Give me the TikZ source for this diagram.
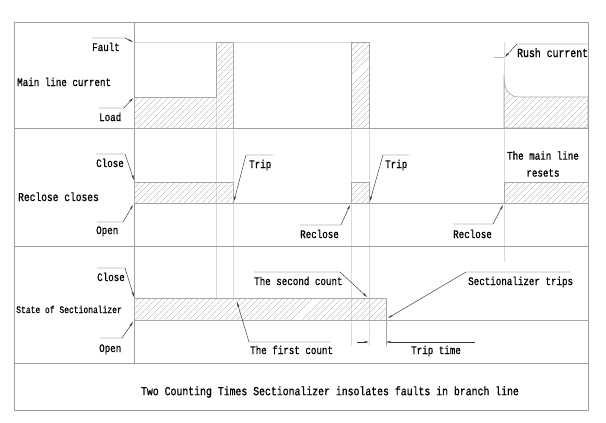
\documentclass[tikz,border=0pt]{standalone}
\usepackage{fontspec}
\setmainfont{Liberation Mono}[FakeStretch=0.8,FakeBold=0.8]
\usetikzlibrary{arrows.meta,patterns.meta}
\begin{document}
\begin{tikzpicture}[x=1pt,y=-1pt,
  frame/.style={draw=gray!75,line width=1pt},
  guide/.style={draw=gray!28,line width=0.5pt},
  wave/.style={draw=gray!70,line width=0.6pt},
  hatch/.style={wave,pattern={Lines[angle=45,distance=4pt,line width=0.35pt]},pattern color=gray!70},
  leader/.style={draw=black!80,line width=0.45pt},
  tip/.style={-{Stealth[length=5pt,width=2pt]}},
  lbl/.style={inner sep=0pt,anchor=base west,font=\fontsize{11.5}{13}\selectfont},
]
\useasboundingbox (0,0) rectangle (606,423);
% guide lines
\foreach \gx/\gy in {216/300,233/300,351/346,369/346,504/262}
  \path[guide] (\gx,42) -- (\gx,\gy);
\path[guide] (134,42) -- (369,42);
% frame
\path[frame] (14,22) rectangle (588,410);
\path[frame] (14,128) -- (588,128);
\path[frame] (14,246) -- (588,246);
\path[frame] (14,363) -- (588,363);
\path[frame] (134,22) -- (134,363);
% row 1 waveform
\path[hatch] (134,128) -- (134,97) -- (216,97) -- (216,42) -- (233,42) -- (233,128) -- cycle;
\path[hatch] (351,128) rectangle (369,42);
\path[hatch] (504,128) -- (504,75) .. controls (504,92) and (510,97) .. (520,97) -- (588,97) -- (588,128) -- cycle;
% row 2 waveform
\path[wave] (134,203) -- (588,203);
\path[hatch] (134,182) rectangle (233,203);
\path[hatch] (351,182) rectangle (369,203);
\path[hatch] (504,182) rectangle (588,203);
% row 3 waveform
\path[hatch] (134,298) rectangle (386,320);
\path[wave] (386,320) -- (588,320);
\path[wave] (386,320) -- (386,346);

% labels
\node[lbl] (mlc) at (17,86) {Main line current};
\node[lbl] (fault) at (92,51) {Fault};
\node[lbl] (load) at (99,121) {Load};
\node[lbl,font=\fontsize{12.3}{14}\selectfont] (rush) at (517,57) {Rush current};
\node[lbl,font=\fontsize{12}{14}\selectfont] (rc) at (18,201) {Reclose closes};
\node[lbl] (close1) at (96,167) {Close};
\node[lbl] (open1) at (96,234) {Open};
\node[lbl] (trip1) at (249,168) {Trip};
\node[lbl] (trip2) at (385,168) {Trip};
\node[lbl] (recl1) at (300,238) {Reclose};
\node[lbl] (recl2) at (453,238) {Reclose};
\node[inner sep=0pt,align=center,font=\fontsize{11.5}{17}\selectfont] (resets) at (543,164) {The main line\\resets};
\node[lbl] (close2) at (97,281) {Close};
\node[lbl] (open2) at (99,352) {Open};
\node[lbl,font=\fontsize{10}{12}\selectfont] (sos) at (16,313) {State of Sectionalizer};
\node[lbl] (second) at (254,285) {The second count};
\node[lbl] (first) at (250,354) {The first count};
\node[lbl] (sectrips) at (468,285) {Sectionalizer trips};
\node[lbl] (triptime) at (411,354) {Trip time};
\node[inner sep=0pt,font=\fontsize{12.3}{14}\selectfont] (title) at (330,392) {Two Counting Times Sectionalizer insolates faults in branch line};

% leaders
\path[leader,tip] (92,38) -- (125,38) -- (133,42);
\path[leader,tip] (99,108) -- (124,108) -- (133,98);
\path[leader,tip] (588,44) -- (517,44) -- (505,57);
\path[draw=gray!60,line width=0.5pt] (494,57) -- (504,57);
\path[leader,tip] (96,154) -- (125,154) -- (134,180);
\path[leader,tip] (97,222) -- (123,222) -- (133,205);
\path[leader,tip] (273,155) -- (246,155) -- (234,201);
\path[leader,tip] (409,155) -- (383,155) -- (370,201);
\path[leader,tip] (300,225) -- (341,225) -- (350,205);
\path[leader,tip] (453,224) -- (493,224) -- (503,205);
\path[leader,tip] (97,268) -- (125,268) -- (134,297);
\path[leader,tip] (100,338) -- (122,338) -- (133,322);
\path[leader,tip] (254,272) -- (340,272) -- (367,297);
\path[leader,tip] (330,342) -- (249,342) -- (237,302);
\path[leader,tip] (570,272) -- (466,272) -- (388,318);
% trip time dimension
\path[leader,tip] (357,342) -- (369,342);
\path[leader,tip] (475,342) -- (386,342);
\end{tikzpicture}
\end{document}
